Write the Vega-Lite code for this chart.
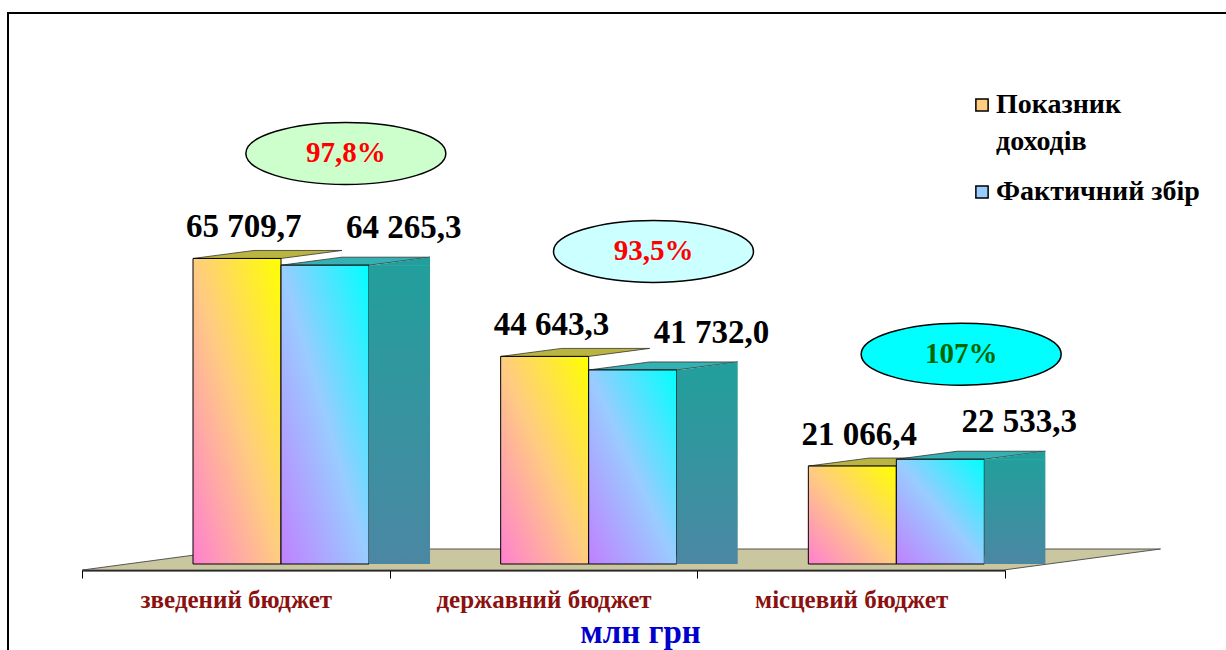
{
  "$schema": "https://vega.github.io/schema/vega-lite/v6.json",
  "autosize": {"type": "none"},
  "width": 1218,
  "height": 637,
  "padding": {"left": 8, "top": 13, "right": 0, "bottom": 0},
  "background": "white",
  "config": {
    "view": {"stroke": "black", "strokeWidth": 2, "strokeDash": [1218, 1855, 637, 10]},
    "locale": {"number": {"decimal": ",", "thousands": " ", "grouping": [3], "currency": ["", ""]}},
    "font": "Liberation Serif"
  },
  "datasets": {
    "bars": [
      {"category": "зведений бюджет", "series": "Показник доходів", "value": 65709.7},
      {"category": "зведений бюджет", "series": "Фактичний збір", "value": 64265.3},
      {"category": "державний бюджет", "series": "Показник доходів", "value": 44643.3},
      {"category": "державний бюджет", "series": "Фактичний збір", "value": 41732.0},
      {"category": "місцевий бюджет", "series": "Показник доходів", "value": 21066.4},
      {"category": "місцевий бюджет", "series": "Фактичний збір", "value": 22533.3}
    ],
    "ratios": [
      {"category": "зведений бюджет", "label": "97,8%"},
      {"category": "державний бюджет", "label": "93,5%"},
      {"category": "місцевий бюджет", "label": "107%"}
    ]
  },
  "data": {"name": "bars"},
  "encoding": {
    "x": {
      "field": "category", "type": "nominal", "sort": null,
      "scale": {"type": "band", "domain": ["зведений бюджет", "державний бюджет", "місцевий бюджет"], "range": [74, 997], "paddingInner": 0, "paddingOuter": 0},
      "axis": {
        "orient": "bottom", "offset": -80, "labelAngle": 0,
        "domainColor": "black", "domainWidth": 2,
        "tickColor": "black", "tickSize": 8, "tickWidth": 1, "tickBand": "extent",
        "labelFont": "Liberation Serif", "labelFontWeight": "bold", "labelFontSize": 25, "labelColor": "#8b1111", "labelLimit": 400,
        "labelBaseline": "alphabetic", "labelPadding": 29,
        "title": "млн грн", "titleColor": "#0000cc", "titleFont": "Liberation Serif", "titleFontWeight": "bold", "titleFontSize": 33,
        "titleX": 632, "titleY": 72, "titleBaseline": "alphabetic", "titleAlign": "center", "titleAnchor": null
      }
    },
    "y": {
      "field": "value", "type": "quantitative",
      "scale": {"domain": [0, 118500], "range": [551, 0], "nice": false, "zero": true},
      "axis": null
    },
    "xOffset": {"field": "series", "type": "nominal", "scale": {"domain": ["Показник доходів", "Фактичний збір"], "range": [111, 287], "paddingInner": 0, "paddingOuter": 0}}
  },
  "layer": [
    {
      "mark": {"type": "bar", "opacity": 0},
      "encoding": {
        "color": {
          "field": "series", "type": "nominal",
          "scale": {"domain": ["Показник доходів", "Фактичний збір"], "range": ["#ffcc80", "#99ccff"]},
          "legend": {
            "title": null, "orient": "none", "legendX": 960, "legendY": 78, "padding": 0,
            "symbolType": "square", "symbolSize": 150, "symbolStrokeColor": "black", "symbolStrokeWidth": 1.5, "symbolOpacity": 1,
            "labelFont": "Liberation Serif", "labelFontWeight": "bold", "labelFontSize": 28, "labelColor": "black",
            "labelOffset": 0, "labelLimit": 400, "labelBaseline": "middle", "rowPadding": 22,
            "labelExpr": "datum.label == 'Показник доходів' ? ['Показник', 'доходів'] : datum.label",
            "encode": {
              "symbols": {"update": {"stroke": {"value": "black"}, "strokeWidth": {"value": 1.5}}},
              "labels": {"update": {"lineHeight": {"value": 37}}}
            }
          }
        }
      }
    },
    {
      "transform": [{"filter": "datum.category == 'державний бюджет' && datum.series == 'Показник доходів'"}],
      "mark": {"type": "point", "filled": true, "opacity": 1, "size": 4, "shape": "M-461 6L460 6L617 -15L-304 -15Z", "fill": "#c9c6a0", "stroke": "#555555", "strokeWidth": 1},
      "encoding": {"xOffset": null, "y": {"datum": 0, "type": "quantitative"}}
    },
    {
      "mark": {"type": "point", "filled": true, "opacity": 1, "size": 4, "shape": "M-44 0L44 0L105 -8L17 -8Z", "stroke": "#333333", "strokeWidth": 0.8},
      "encoding": {
        "fill": {"field": "series", "type": "nominal", "scale": {"domain": ["Показник доходів", "Фактичний збір"], "range": ["#bab541", "#34b1b3"]}, "legend": null}
      }
    },
    {
      "transform": [{"filter": "datum.series == 'Показник доходів'"}],
      "mark": {"type": "bar", "stroke": "black", "strokeWidth": 1, "fill": {"gradient": "linear", "x1": 0, "y1": 1, "x2": 1, "y2": 0, "stops": [{"offset": 0, "color": "#ff80d0"}, {"offset": 0.5, "color": "#ffcc80"}, {"offset": 1, "color": "#ffff00"}]}},
      "encoding": {}
    },
    {
      "transform": [{"filter": "datum.series == 'Фактичний збір'"}],
      "mark": {"type": "bar", "stroke": "black", "strokeWidth": 1, "fill": {"gradient": "linear", "x1": 0, "y1": 1, "x2": 1, "y2": 0, "stops": [{"offset": 0, "color": "#c080ff"}, {"offset": 0.5, "color": "#99ccff"}, {"offset": 1, "color": "#00ffff"}]}},
      "encoding": {}
    },
    {
      "transform": [{"filter": "datum.series == 'Фактичний збір'"}],
      "mark": {"type": "bar", "width": 61, "xOffset": 163.7, "y2Offset": -8, "fill": {"gradient": "linear", "x1": 0, "y1": 0, "x2": 0, "y2": 1, "stops": [{"offset": 0, "color": "#229f9c"}, {"offset": 1, "color": "#4b87a3"}]}},
      "encoding": {"xOffset": null}
    },
    {
      "transform": [{"filter": "datum.series == 'Фактичний збір'"}],
      "mark": {"type": "point", "filled": true, "opacity": 1, "size": 4, "shape": "M44 0.5L105 -8L105 0.5Z", "fill": "#229f9c", "strokeWidth": 0},
      "encoding": {}
    },
    {
      "transform": [{"filter": "datum.series == 'Фактичний збір'"}],
      "mark": {"type": "point", "filled": true, "opacity": 1, "size": 4, "shape": "M44 -8.5L44 0L105 -8.5Z", "fill": "#4b87a3", "strokeWidth": 0},
      "encoding": {"y": {"datum": 0, "type": "quantitative"}}
    },
    {
      "transform": [{"filter": "datum.series == 'Показник доходів'"}],
      "mark": {"type": "text", "font": "Liberation Serif", "fontWeight": "bold", "fontSize": 33, "baseline": "middle", "align": "center", "xOffset": 8, "yOffset": -31, "color": "black"},
      "encoding": {"xOffset": null, "text": {"field": "value", "type": "quantitative", "format": ",.1f"}}
    },
    {
      "transform": [{"filter": "datum.series == 'Фактичний збір'"}],
      "mark": {"type": "text", "font": "Liberation Serif", "fontWeight": "bold", "fontSize": 33, "baseline": "middle", "align": "center", "xOffset": 168, "yOffset": -37, "color": "black"},
      "encoding": {"xOffset": null, "text": {"field": "value", "type": "quantitative", "format": ",.1f"}}
    },
    {
      "transform": [
        {"aggregate": [{"op": "max", "field": "value", "as": "value"}], "groupby": ["category"]},
        {"lookup": "category", "from": {"data": {"name": "ratios"}, "key": "category", "fields": ["label"]}}
      ],
      "mark": {"type": "point", "filled": true, "opacity": 1, "size": 40000, "shape": "M-1 0A1 0.31 0 1 1 1 0A1 0.31 0 1 1 -1 0Z", "stroke": "black", "strokeWidth": 1.5, "xOffset": 110, "yOffset": -105},
      "encoding": {
        "xOffset": null,
        "fill": {"field": "category", "type": "nominal", "scale": {"domain": ["зведений бюджет", "державний бюджет", "місцевий бюджет"], "range": ["#ccffcc", "#ccffff", "#00ffff"]}, "legend": null}
      }
    },
    {
      "transform": [
        {"aggregate": [{"op": "max", "field": "value", "as": "value"}], "groupby": ["category"]},
        {"lookup": "category", "from": {"data": {"name": "ratios"}, "key": "category", "fields": ["label"]}}
      ],
      "mark": {"type": "text", "font": "Liberation Serif", "fontWeight": "bold", "fontSize": 29, "baseline": "middle", "align": "center", "xOffset": 110, "yOffset": -105},
      "encoding": {
        "xOffset": null,
        "text": {"field": "label", "type": "nominal"},
        "fill": {"field": "category", "type": "nominal", "scale": {"domain": ["зведений бюджет", "державний бюджет", "місцевий бюджет"], "range": ["#ff0000", "#ff0000", "#006600"]}, "legend": null}
      }
    }
  ],
  "resolve": {"scale": {"fill": "independent"}}
}
